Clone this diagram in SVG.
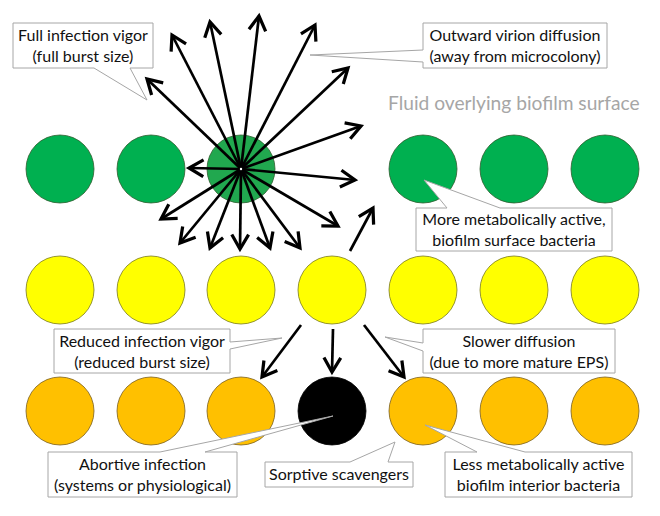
<svg xmlns="http://www.w3.org/2000/svg" width="660" height="516" viewBox="0 0 660 516">
<style>
.g{fill:#00b050;stroke:#2f5d2f;stroke-width:0.8}
.y{fill:#ffff00;stroke:#7a7a20;stroke-width:0.8}
.o{fill:#ffc000;stroke:#7a6020;stroke-width:0.8}
.k{fill:#000;stroke:#000;stroke-width:0.8}
.box{fill:#fff;stroke:#a6a6a6;stroke-width:1}
.t{font-family:Lato,"Liberation Sans",sans-serif;font-size:16px;fill:#111;text-anchor:middle}
.a{stroke:#000;stroke-width:2.7;fill:none;marker-end:url(#ah)}
</style>
<defs>
<marker id="ah" markerUnits="userSpaceOnUse" markerWidth="24" markerHeight="24" refX="0" refY="0" viewBox="-14 -10 17 20" orient="auto">
<path d="M-12,-7 L0,0 L-12,7" fill="none" stroke="#000" stroke-width="2.7"/>
</marker>
</defs>
<rect width="660" height="516" fill="#fff"/>
<g id="row-green">
<circle class="g" cx="60" cy="169" r="34"/>
<circle class="g" cx="151" cy="169" r="34"/>
<circle class="g" cx="241" cy="169" r="34" style="fill:#21a84f"/>
<circle class="g" cx="423" cy="169" r="34"/>
<circle class="g" cx="514" cy="169" r="34"/>
<circle class="g" cx="605" cy="169" r="34"/>
</g>
<g id="row-yellow">
<circle class="y" cx="60" cy="290" r="34"/>
<circle class="y" cx="151" cy="290" r="34"/>
<circle class="y" cx="241" cy="290" r="34"/>
<circle class="y" cx="332" cy="290" r="34"/>
<circle class="y" cx="423" cy="290" r="34"/>
<circle class="y" cx="514" cy="290" r="34"/>
<circle class="y" cx="605" cy="290" r="34"/>
</g>
<g id="row-orange">
<circle class="o" cx="60" cy="411" r="34"/>
<circle class="o" cx="151" cy="411" r="34"/>
<circle class="o" cx="241" cy="411" r="34"/>
<circle class="k" cx="332" cy="411" r="34"/>
<circle class="o" cx="423" cy="411" r="34"/>
<circle class="o" cx="514" cy="411" r="34"/>
<circle class="o" cx="605" cy="411" r="34"/>
</g>
<g id="connectors">
<line class="a" x1="241" y1="169" x2="189" y2="168"/>
<line class="a" x1="241" y1="169" x2="147" y2="79"/>
<line class="a" x1="241" y1="169" x2="172" y2="35"/>
<line class="a" x1="241" y1="169" x2="210" y2="22"/>
<line class="a" x1="241" y1="169" x2="259" y2="16"/>
<line class="a" x1="241" y1="169" x2="315" y2="25"/>
<line class="a" x1="241" y1="169" x2="348" y2="68"/>
<line class="a" x1="241" y1="169" x2="361" y2="126"/>
<line class="a" x1="241" y1="169" x2="355" y2="180"/>
<line class="a" x1="241" y1="169" x2="338" y2="226"/>
<line class="a" x1="241" y1="169" x2="300" y2="248"/>
<line class="a" x1="241" y1="169" x2="270" y2="248"/>
<line class="a" x1="241" y1="169" x2="240" y2="249"/>
<line class="a" x1="241" y1="169" x2="210" y2="248"/>
<line class="a" x1="241" y1="169" x2="180" y2="243"/>
<line class="a" x1="241" y1="169" x2="161" y2="219"/>
<line class="a" x1="350" y1="251" x2="373" y2="208"/>
<line class="a" x1="301" y1="325" x2="262" y2="377"/>
<line class="a" x1="333" y1="329" x2="332" y2="372"/>
<line class="a" x1="364" y1="325" x2="404" y2="377"/>
<circle cx="241" cy="169" r="1.2" fill="#fff"/>
</g>
<g id="label-full">
<path class="box" d="M13,23 H153 V68 H130 L147,100 L94,68 H13 Z"/>
<text class="t" x="83" y="41">Full infection vigor</text>
<text class="t" x="83" y="62">(full burst size)</text>
</g>
<g id="label-outward">
<path class="box" d="M423,23 H607 V68 H423 V62 L310,55 L423,50 Z"/>
<text class="t" x="515" y="41">Outward virion diffusion</text>
<text class="t" x="515" y="62">(away from microcolony)</text>
</g>
<g id="label-fluid">
<text x="388" y="110" style="font-family:Lato,'Liberation Sans',sans-serif;font-size:19.2px;fill:#a6a6a6">Fluid overlying biofilm surface</text>
</g>
<g id="label-more">
<path class="box" d="M416,208 H447 L424,180 L500,208 H612 V251 H416 Z"/>
<text class="t" x="514" y="225">More metabolically active,</text>
<text class="t" x="514" y="246">biofilm surface bacteria</text>
</g>
<g id="label-reduced">
<path class="box" d="M54,329 H230 V342 L282,338 L230,349 V373 H54 Z"/>
<text class="t" x="142" y="347">Reduced infection vigor</text>
<text class="t" x="142" y="368">(reduced burst size)</text>
</g>
<g id="label-slower">
<path class="box" d="M423,329 H615 V373 H423 V351 L385,337 L423,343 Z"/>
<text class="t" x="519" y="347">Slower diffusion</text>
<text class="t" x="519" y="368">(due to more mature EPS)</text>
</g>
<g id="label-abortive">
<path class="box" d="M48,452 H160 L333,416 L205,452 H237 V497 H48 Z"/>
<text class="t" x="142.5" y="470">Abortive infection</text>
<text class="t" x="142.5" y="491">(systems or physiological)</text>
</g>
<g id="label-sorptive">
<path class="box" d="M265,462 H350 L395,442 L388,462 H413 V487 H265 Z"/>
<text class="t" x="339" y="480">Sorptive scavengers</text>
</g>
<g id="label-less">
<path class="box" d="M445,452 H477 L425,425 L525,452 H632 V497 H445 Z"/>
<text class="t" x="538.5" y="470">Less metabolically active</text>
<text class="t" x="538.5" y="491">biofilm interior bacteria</text>
</g>
</svg>
